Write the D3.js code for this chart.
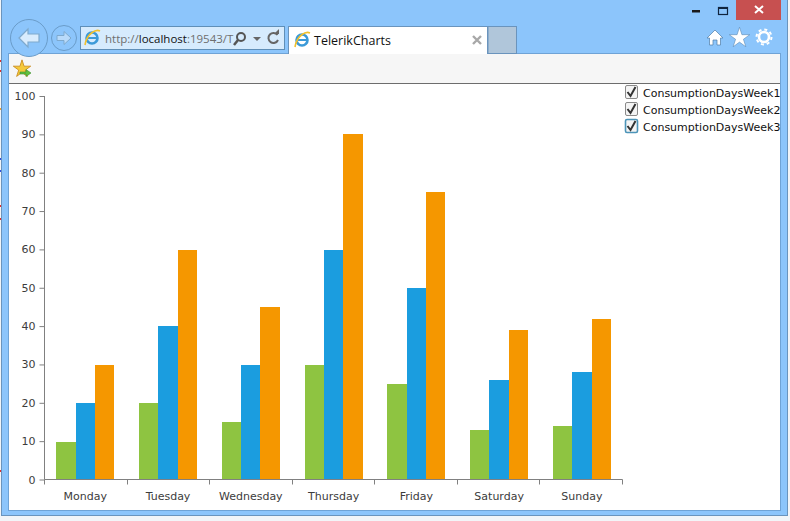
<!DOCTYPE html>
<html><head><meta charset="utf-8">
<script src="https://cdn.jsdelivr.net/npm/d3@7"></script>
<style>html,body{margin:0;padding:0;background:#f2f5f8;overflow:hidden}svg{display:block}</style>
</head><body><svg id="c" width="790" height="521"></svg>
<script>
const categories=["Monday","Tuesday","Wednesday","Thursday","Friday","Saturday","Sunday"];
const week1=[10,20,15,30,25,13,14];
const week2=[20,40,30,60,50,26,28];
const week3=[30,60,45,90,75,39,42];
const seriesNames=["ConsumptionDaysWeek1","ConsumptionDaysWeek2","ConsumptionDaysWeek3"];
const seriesColors=["#8ec441","#1b9ddf","#f59700"];
const yTicks=[0,10,20,30,40,50,60,70,80,90,100];

const svg=d3.select("#c");
const F="'DejaVu Sans',sans-serif", UI="'Open Sans','Noto Sans',sans-serif";
const rect=(x,y,w,h,f,s)=>svg.append("rect").attr("x",x).attr("y",y).attr("width",w).attr("height",h).attr("fill",f).attr("stroke",s||"none");
const path=(d,f,s,w)=>svg.append("path").attr("d",d).attr("fill",f||"none").attr("stroke",s||"none").attr("stroke-width",w||1);

// window frame
rect(1.5,-2,786,517.5,"#8cc5fb","#6a94bd");
rect(0,0,1,521,"#f2f5f8");
[[60,"#e03030"],[70,"#e03030"],[108,"#f0a030"],[158,"#3050e0"],[170,"#3050e0"],[205,"#e03030"],[218,"#e03030"],[470,"#e03030"]].forEach(a=>rect(0,a[0],1,2,a[1]));
rect(736,0,45,20,"#c75050");
path("M755 6L763 13M763 6L755 13","none","#fff",2);
rect(692,10,8,2.5,"#1a1a1a");
rect(718.5,7.5,9,7,"none","#10253f").attr("stroke-width",1.2);
rect(718.5,7,9,2,"#10253f");
// toolbar and content
rect(9,53,771,30,"#f6f6f6");
rect(9,53,771,.8,"#7ba4cc");
rect(9,83,771,1,"#6d6d6d");
rect(9,84,771,426,"#ffffff");
rect(8.5,53.5,772,457,"none","#6fa3d6");
// nav buttons
svg.append("circle").attr("cx",29).attr("cy",38).attr("r",18.5).attr("fill","#8cc5fb").attr("stroke","#6a9cc9");
svg.append("circle").attr("cx",64).attr("cy",38).attr("r",12.5).attr("fill","#8cc5fb").attr("stroke","#6a9cc9");
path("M19 38L28 29V34H39V42H28V47Z","#d9ecfd","#7ea9cd",1.2);
path("M57 35.5H64V31.5L71 38L64 44.5V40.5H57Z","#b8dafa","#7ea9cd",1);
// address bar
rect(80.5,26.5,204,23,"#d6ebfd","#5f8fb8");
const ie=(x,y)=>{svg.append("circle").attr("cx",x).attr("cy",y).attr("r",5.5).attr("fill","none").attr("stroke","#3c9ad8").attr("stroke-width",2.6);
 path(`M${x-6} ${y}H${x+6}`,"none","#3c9ad8",2);
 path(`M${x-7} ${y+7}C${x-5} ${y-5} ${x+4} ${y-9} ${x+8} ${y-7}`,"none","#f2c02c",1.6);};
ie(92,38);
const t=svg.append("text").attr("x",105).attr("y",43).attr("font-family",UI).attr("font-size",11.5).attr("fill","#6f6f6f");
t.append("tspan").text("http://");
t.append("tspan").attr("fill","#111").text("localhost");
t.append("tspan").text(":19543/T");
svg.append("circle").attr("cx",241).attr("cy",37).attr("r",4).attr("fill","none").attr("stroke","#555").attr("stroke-width",2);
path("M238 40L234 45","none","#555",2.5);
path("M253 37H261L257 41Z","#666");
path("M277.5 35A5 5 0 1 0 278 40","none","#666",2);
path("M274 34H279V29Z","#666");
// tab
rect(288.5,26.5,199,27,"#ffffff","#6a94bd");
rect(488,26.5,28.5,27,"#b0c6da","#6a94bd");
rect(289,52,198,2,"#ffffff");
ie(302,40);
svg.append("text").attr("x",314).attr("y",45).attr("font-family",UI).attr("font-size",12.5).attr("fill","#111").text("TelerikCharts");
path("M473 36L481 44M481 36L473 44","none","#a8a8a8",2.4);
// right-hand icons
path("M707 38L715 30L723 38H720.5V45H717V40H713V45H709.5V38Z","#fff","#4f7da6",.7);
const star=d3.symbol().type(d3.symbolStar).size(130)();
path(star,"#fff","#4f7da6",.5).attr("transform","translate(739.5,38)");
svg.append("circle").attr("cx",764).attr("cy",37).attr("r",5).attr("fill","none").attr("stroke","#fff").attr("stroke-width",2.6);
svg.append("circle").attr("cx",764).attr("cy",37).attr("r",7.5).attr("fill","none").attr("stroke","#fff").attr("stroke-width",2).attr("stroke-dasharray","3 2.9");
// favourites
path(star,"#f5c93a","#c98a1c",1).attr("transform","translate(22,69) scale(.85)");
path("M20 72H26V69.5L31 73L26 76.5V74H20Z","#60c040","#3a8f2a",.6);

// chart
const x=d3.scaleBand().domain(categories).range([44.07,623.06]).paddingInner(.2987).paddingOuter(.1465);
const x1=d3.scaleBand().domain(d3.range(3)).range([0,x.bandwidth()]);
const y=d3.scaleLinear().domain([0,100]).range([480,96]);
const yAxisScale=y.copy().range([479.5,96]);
[week1,week2,week3].forEach((vals,i)=>{
 svg.append("g").attr("shape-rendering","crispEdges").selectAll("rect").data(vals).join("rect")
  .attr("x",(d,j)=>x(categories[j])+x1(i)).attr("width",x1.bandwidth())
  .attr("y",d=>y(d)).attr("height",d=>y(0)-y(d)).attr("fill",seriesColors[i]);
});
const ax=svg.append("g").attr("transform","translate(44.5,0)")
 .call(d3.axisLeft(yAxisScale).tickValues(yTicks).tickSize(5).tickPadding(4));
const step=578/7;
const bx=svg.append("g").attr("transform","translate(0,479.5)")
 .call(d3.axisBottom(x).tickSize(0).tickPadding(13));
bx.selectAll(".tick").attr("transform",d=>`translate(${x(d)+x.bandwidth()/2},0)`);
bx.append("g").selectAll("line").data(d3.range(8)).join("line")
 .attr("x1",d=>44.5+Math.round(d*step)).attr("x2",d=>44.5+Math.round(d*step)).attr("y1",0).attr("y2",5).attr("stroke","#808080");
[ax,bx].forEach(g=>{g.selectAll(".domain").attr("stroke","#808080").attr("d",g===ax?"M0,96V479.5":"M44.5,0H622.5");
 g.selectAll(".tick line").attr("stroke","#808080");
 g.selectAll("text").attr("font-family",F).attr("font-size",11).attr("fill","#3c3c3c");});
// legend
const boxes=svg.append("g").selectAll("g").data(seriesNames).join("g").attr("transform",(d,i)=>`translate(625,${85+i*17})`);
boxes.append("rect").attr("x",.5).attr("y",.5).attr("width",12).attr("height",13).attr("rx",1.5).attr("fill","#f4f4f4").attr("stroke",(d,i)=>i==2?"#4c94b8":"#8a8a8a").attr("stroke-width",(d,i)=>i==2?1.6:1);
boxes.append("path").attr("d","M2.5 7L5.5 11L10.5 2").attr("fill","none").attr("stroke","#333").attr("stroke-width",2);
boxes.append("text").attr("x",18).attr("y",11.5).attr("font-family",F).attr("font-size",11).attr("fill","#111").text(d=>d);
</script></body></html>
